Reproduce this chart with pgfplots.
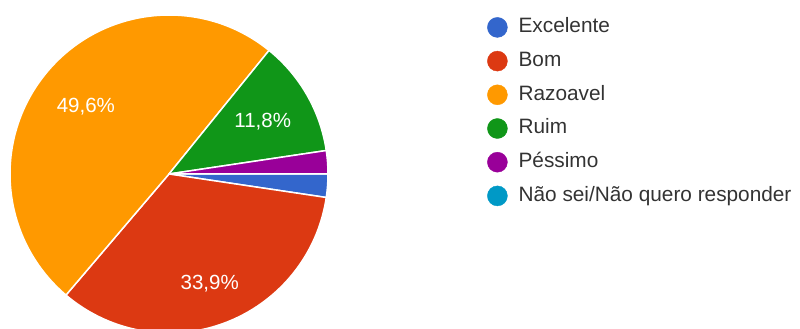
\documentclass[border=0pt]{standalone}
\usepackage{fontspec}
\setmainfont{Liberation Sans}
\usepackage{pgfplots}
\usepackage{pgfplotstable}
\pgfplotsset{compat=1.18}
\definecolor{pc1}{HTML}{3366CC}
\definecolor{pc2}{HTML}{DC3912}
\definecolor{pc3}{HTML}{FF9900}
\definecolor{pc4}{HTML}{109618}
\definecolor{pc5}{HTML}{990099}
\definecolor{pc6}{HTML}{0099C6}
\definecolor{legtext}{HTML}{333333}
% pie centre (x,y), slice index, share of answers in percent, label radius
\pgfplotstableread{
x y idx pct lr
169 155 1 2.36 110
169 155 2 33.86 116
169 155 3 49.61 108
169 155 4 11.81 108
169 155 5 2.36 110
}\piedata
\pgfplotstablecreatecol[create col/expr accum={\pgfmathaccuma + \thisrow{pct}}{0}]{cum}\piedata
\begin{document}
\begin{tikzpicture}
\begin{axis}[
  width=800pt, height=329pt, scale only axis,
  xmin=0, xmax=800, ymin=0, ymax=329,
  hide axis,
  legend image code/.code={\fill[#1] (10pt,0pt) circle (10pt);},
  legend cell align=left,
  legend style={at={(axis cs:484,314)}, anchor=north west, draw=none, fill=none,
    font=\fontsize{20.8}{24}\selectfont\color{legtext},
    nodes={inner sep=0pt, text height=15pt, text depth=4.5pt},
    row sep=13.3pt,
    /tikz/every odd column/.append style={column sep=11pt}},
]
\addplot[scatter, only marks, mark=*, mark size=0pt, mark options={draw=none, fill=none},
  forget plot,
  visualization depends on={\thisrow{pct} \as \pct},
  visualization depends on={\thisrow{cum} \as \cum},
  visualization depends on={\thisrow{idx} \as \idxraw},
  visualization depends on={\thisrow{lr} \as \lr},
  scatter/@pre marker code/.code={
    \pgfmathsetmacro\angA{-3.6*(\cum-\pct)}
    \pgfmathsetmacro\angB{-3.6*\cum}
    \pgfmathsetmacro\angM{-3.6*(\cum-\pct/2)}
    \pgfmathtruncatemacro\idx{\idxraw}
    \fill[color=pc\idx, draw=white, line width=1.5pt, line join=round] (0,0) -- (\angA:159pt) arc[start angle=\angA, end angle=\angB, radius=159pt] -- cycle;
    \pgfmathtruncatemacro\showlbl{\pct>5}
    \ifnum\showlbl=1
      \node[white, font=\fontsize{20.5}{24}\selectfont, inner sep=0pt, text height=14.7pt, text depth=0pt] at (\angM:\lr pt) {\pgfmathprintnumber[fixed, precision=1, use comma, assume math mode=true]{\pct}\%};
    \fi
  },
  scatter/@post marker code/.code={},
] table[x=x, y=y] {\piedata};
\addlegendimage{pc1}\addlegendentry{Excelente}
\addlegendimage{pc2}\addlegendentry{Bom}
\addlegendimage{pc3}\addlegendentry{Razoavel}
\addlegendimage{pc4}\addlegendentry{Ruim}
\addlegendimage{pc5}\addlegendentry{Péssimo}
\addlegendimage{pc6}\addlegendentry{Não sei/Não quero responder}
\end{axis}
\pgfresetboundingbox
\useasboundingbox (current axis.south west) rectangle (current axis.north east);
\end{tikzpicture}
\end{document}
